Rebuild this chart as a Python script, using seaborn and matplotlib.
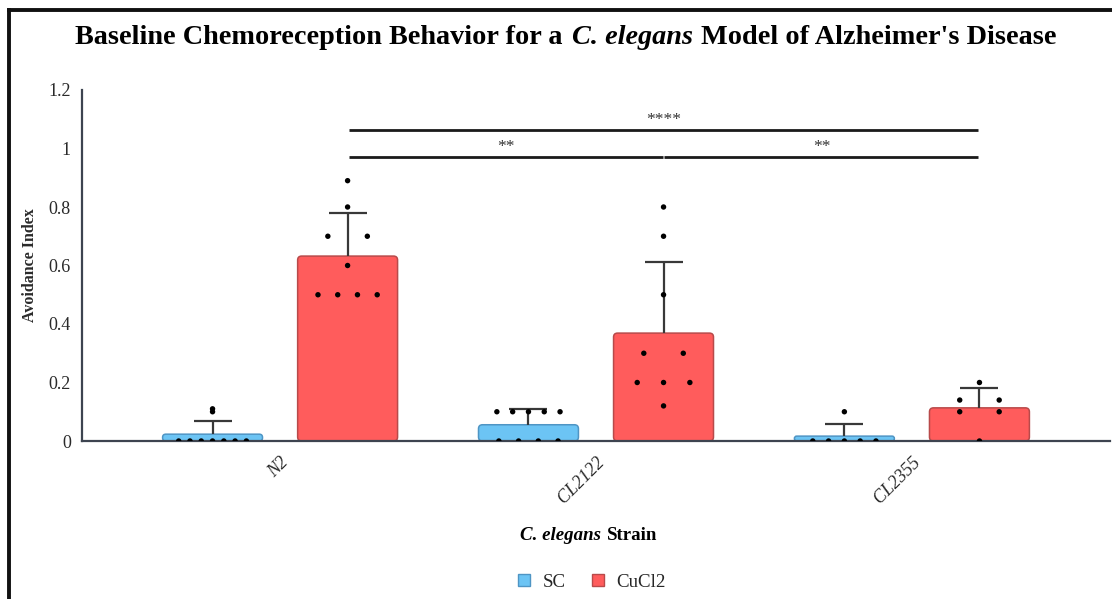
import numpy as np
import pandas as pd
import matplotlib
matplotlib.use("Agg")
import matplotlib.pyplot as plt
import seaborn as sns
from matplotlib.patches import FancyBboxPatch
from matplotlib.lines import Line2D

# ---------------- data ----------------
strains = ["N2", "CL2122", "CL2355"]
treatments = ["SC", "CuCl2"]

n2_sc = [0, 0, 0, 0, 0, 0, 0, 0.10, 0.11]
n2_cucl2 = [0.89, 0.8, 0.7, 0.7, 0.6, 0.5, 0.5, 0.5, 0.5]
cl2122_sc = [0, 0, 0, 0, 0.1, 0.1, 0.1, 0.1, 0.1]
cl2122_cucl2 = [0.8, 0.7, 0.5, 0.3, 0.3, 0.2, 0.2, 0.2, 0.12]
cl2355_sc = [0, 0, 0, 0, 0, 0.1]
cl2355_cucl2 = [0.2, 0.14, 0.14, 0.1, 0.1, 0]

comparisons = [("N2", "CL2122", "**"), ("CL2122", "CL2355", "**"), ("N2", "CL2355", "****")]
comparison_levels = [0.971, 0.971, 1.063]

yticks = [0, 0.2, 0.4, 0.6, 0.8, 1.0, 1.2]

title_parts = [("Baseline Chemoreception Behavior for a", "normal"),
               ("C. elegans", "italic"),
               ("Model of Alzheimer's Disease", "normal")]
xlabel_parts = [("C. elegans", "italic"), ("Strain", "normal")]
ylabel = "Avoidance Index"

groups = [("N2", "SC", n2_sc), ("N2", "CuCl2", n2_cucl2),
          ("CL2122", "SC", cl2122_sc), ("CL2122", "CuCl2", cl2122_cucl2),
          ("CL2355", "SC", cl2355_sc), ("CL2355", "CuCl2", cl2355_cucl2)]
rows = [(s, t, v) for s, t, vals in groups for v in vals]
df = pd.DataFrame(rows, columns=["Strain", "Treatment", "Avoidance Index"])

# ---------------- style ----------------
face = {"SC": "#6cc4f4", "CuCl2": "#ff5c5c"}
edge = {"SC": "#4f95c4", "CuCl2": "#b84a4a"}
axis_col = "#3d4450"
text_col = "#2a2a2a"

sns.set_style("white")
plt.rcParams["font.family"] = ["Liberation Serif", "DejaVu Serif"]

W, H = 1112, 599
fig = plt.figure(figsize=(W / 100, H / 100), dpi=100)
ax = fig.add_axes([82 / W, 1 - 441 / H, (1110 - 82) / W, (441 - 90) / H])

sns.barplot(data=df, x="Strain", y="Avoidance Index", hue="Treatment",
            order=strains, hue_order=treatments, palette=face, saturation=1,
            errorbar=None, width=0.855, gap=0.26, legend=False, ax=ax)

# bar centers and rounded replacements
centers = {}
aspect = (316 / 292.5)
for p in list(ax.patches):
    x, y, w, h = p.get_x(), p.get_y(), p.get_width(), p.get_height()
    cx = x + w / 2
    cat = int(round(cx))
    hue = treatments[0] if cx < cat else treatments[1]
    centers[(strains[cat], hue)] = cx
    fc = p.get_facecolor()
    p.remove()
    rs = min(0.0127, h / aspect / 2 * 0.95)
    fb = FancyBboxPatch((x, y), w, h,
                        boxstyle=f"round,pad=0,rounding_size={rs}",
                        mutation_aspect=aspect, fc=fc, ec=edge[hue], lw=1.1, zorder=1.5)
    ax.add_patch(fb)

sns.stripplot(data=df, x="Strain", y="Avoidance Index", hue="Treatment",
              order=strains, hue_order=treatments, dodge=True, jitter=False,
              palette={"SC": "black", "CuCl2": "black"}, size=3.9,
              legend=False, ax=ax, zorder=5)

# spread equal values symmetrically in horizontal rows
cvals = np.array(list(centers.values()))
for coll in ax.collections:
    offs = np.asarray(coll.get_offsets(), float)
    if len(offs) == 0:
        continue
    new = offs.copy()
    keys = []
    for x, y in offs:
        c = cvals[np.argmin(np.abs(cvals - x))]
        keys.append((round(c, 4), round(y, 4)))
    for key in set(keys):
        idx = [i for i, k in enumerate(keys) if k == key]
        n = len(idx)
        step = 0.25 / n if n > 1 else 0
        for j, i in enumerate(idx):
            new[i, 0] = key[0] + (j - (n - 1) / 2) * step
    coll.set_offsets(new)

# upward SD error bars (upper cap only)
for (s, t), cx in centers.items():
    vals = df[(df.Strain == s) & (df.Treatment == t)]["Avoidance Index"]
    m, sd = vals.mean(), vals.std(ddof=1)
    cont = ax.errorbar(cx, m, yerr=[[0], [sd]], fmt="none", ecolor="#383838",
                       elinewidth=1.6, capsize=14, capthick=1.6, zorder=4)
    for cl in cont[1]:
        if np.allclose(cl.get_ydata(), m):
            cl.remove()

# significance annotations
for (a, b, lab), lev in zip(comparisons, comparison_levels):
    x1 = centers[(a, "CuCl2")] + 0.003
    x2 = centers[(b, "CuCl2")] - 0.003
    ax.plot([x1, x2], [lev, lev], color="#1a1a1a", lw=2.0, clip_on=False,
            solid_capstyle="butt", zorder=6)
    ax.text((x1 + x2) / 2, lev + 0.022, lab, ha="center", va="baseline",
            fontsize=12.5, color="#333333", clip_on=False)

# axes styling
ax.set_xlim(-0.627, 2.627)
ax.set_ylim(0, 1.2)
ax.set_yticks(yticks)
ax.set_yticklabels([f"{v:g}" for v in yticks])
ax.set_xticks(range(len(strains)))
ax.set_xticklabels(strains, rotation=45, ha="right", va="top",
                   rotation_mode="anchor", fontstyle="italic")
sns.despine(ax=ax)
for sp in ("left", "bottom"):
    ax.spines[sp].set_color(axis_col)
    ax.spines[sp].set_linewidth(1.6)
ax.tick_params(axis="both", direction="out", length=5, width=1.4,
               color=axis_col, labelcolor=text_col, labelsize=13)
ax.tick_params(axis="x", pad=4)
ax.tick_params(axis="y", pad=3)
ax.set_xlabel("")
ax.set_ylabel(ylabel, fontweight="bold", fontsize=11.5, color=text_col)
ax.yaxis.set_label_coords((38 - 82) / 1028, 0.5)
ax.set_facecolor("white")


def rich_text(parts, cx_px, cy_px, size, weight="bold"):
    r = fig.canvas.get_renderer()
    arts = []
    for t, st in parts:
        arts.append(fig.text(0, 0, t, fontsize=size, fontweight=weight, fontstyle=st,
                             va="center", ha="left", color="black"))
    probe_ab = fig.text(0, 0, "a b", fontsize=size, fontweight=weight)
    probe_a = fig.text(0, 0, "a", fontsize=size, fontweight=weight)
    sp = probe_ab.get_window_extent(r).width - 2 * probe_a.get_window_extent(r).width
    probe_ab.remove(); probe_a.remove()
    widths = [a.get_window_extent(r).width for a in arts]
    total = sum(widths) + sp * (len(arts) - 1)
    x = cx_px - total / 2
    for a, w in zip(arts, widths):
        a.set_position((x / W, 1 - cy_px / H))
        x += w + sp


rich_text(title_parts, 566, 38, 20.3)
rich_text(xlabel_parts, 589, 535, 13.6)

handles = [Line2D([], [], marker="s", ls="none", markersize=8,
                  mfc=face[t], mec=edge[t], mew=1.0) for t in treatments]
fig.legend(handles, treatments, loc="center", bbox_to_anchor=(590 / W, 1 - 582 / H),
           ncol=2, frameon=False, fontsize=13.6, handletextpad=0.5,
           columnspacing=1.2, handlelength=1.0)

# screenshot frame (left and top border)
fig.add_artist(Line2D([9 / W, 9 / W], [0, 1 - 10 / H], transform=fig.transFigure,
                      color="#111111", lw=2.8, solid_capstyle="projecting"))
fig.add_artist(Line2D([9 / W, 1], [1 - 10 / H, 1 - 10 / H], transform=fig.transFigure,
                      color="#111111", lw=2.8, solid_capstyle="projecting"))

fig.savefig("out.png", dpi=100, facecolor="white")
